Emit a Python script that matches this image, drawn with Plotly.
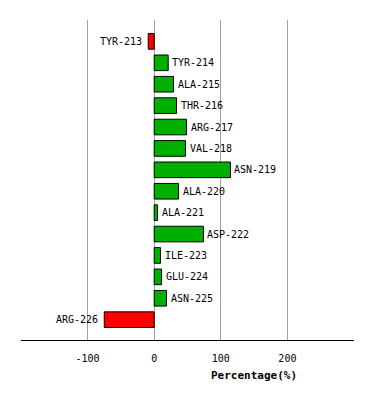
import plotly.graph_objects as go

residues = ["TYR-213", "TYR-214", "ALA-215", "THR-216", "ARG-217", "VAL-218", "ASN-219",
            "ALA-220", "ALA-221", "ASP-222", "ILE-223", "GLU-224", "ASN-225", "ARG-226"]
percentages = [-9, 21, 29, 33.5, 48.5, 47, 114.5, 36.5, 5, 74, 9.5, 11, 18.5, -75]
tick_values = [-100, 0, 100, 200]
tick_labels = ["-100", "0", "100", "200"]

colors = ["#ff0000" if v < 0 else "#00b000" for v in percentages]
ypos = list(range(len(residues)))

fig = go.Figure()
fig.add_trace(go.Bar(
    x=percentages, y=ypos, orientation="h",
    marker=dict(color=colors, line=dict(color="black", width=1)),
    width=0.73, hoverinfo="skip",
))

for name, val, yp in zip(residues, percentages, ypos):
    neg = val < 0
    fig.add_annotation(text=name, x=val, y=yp, xref="x", yref="y",
                       xanchor="right" if neg else "left",
                       xshift=-4 if neg else 2, showarrow=False,
                       font=dict(family="DejaVu Sans Mono", size=10, color="black"))

fig.add_annotation(text="<b>Percentage(%)</b>", x=150, xref="x", y=0, yref="paper",
                   yanchor="middle", yshift=-35, showarrow=False,
                   font=dict(family="DejaVu Sans Mono", size=11, color="black"))

fig.update_layout(
    width=374, height=400,
    margin=dict(l=21, r=20, t=20, b=60),
    plot_bgcolor="white", paper_bgcolor="white",
    showlegend=False,
    font=dict(family="DejaVu Sans Mono", size=10, color="black"),
)
fig.update_xaxes(range=[-200, 300], tickvals=tick_values, ticktext=tick_labels,
                 showgrid=True, gridcolor="#a0a0a0", gridwidth=1,
                 zeroline=True, zerolinecolor="#a0a0a0", zerolinewidth=1,
                 showline=True, linecolor="black", linewidth=1,
                 ticks="outside", ticklen=9, tickcolor="white",
                 tickfont=dict(family="DejaVu Sans Mono", size=10, color="black"))
fig.update_yaxes(range=[13.95, -1.0], showticklabels=False, showgrid=False,
                 zeroline=False, showline=False)

fig.write_html("out.html")
